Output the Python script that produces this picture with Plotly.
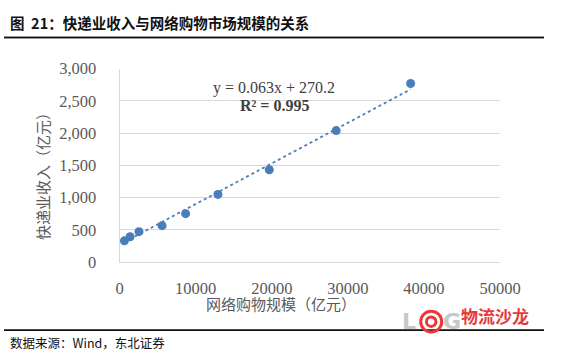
import plotly.graph_objects as go

# Data
online_shopping = [625, 1375, 2540, 5580, 8670, 12920, 19670, 28460, 38250]   # 网络购物规模（亿元）
express_revenue = [328, 392, 471, 564, 750, 1049, 1431, 2039, 2770]          # 快递业收入（亿元）
trend_slope = 0.063
trend_intercept = 270.2
y_tick_vals = [0, 500, 1000, 1500, 2000, 2500, 3000]
y_tick_text = ["0", "500", "1,000", "1,500", "2,000", "2,500", "3,000"]
x_tick_vals = [0, 10000, 20000, 30000, 40000, 50000]
x_tick_text = ["0", "10000", "20000", "30000", "40000", "50000"]

W, H = 565, 362
L, R, T, B = 121, 519, 63, 267  # plot area in pixels


def px(x):
    return x / W


def py(y):
    return 1 - y / H


trend_x = [min(online_shopping), max(online_shopping)]
trend_y = [trend_slope * v + trend_intercept for v in trend_x]

fig = go.Figure()
fig.add_trace(go.Scatter(
    x=trend_x, y=trend_y, mode="lines",
    line=dict(color="#4A7EBB", width=1.8, dash="dot"),
    hoverinfo="skip", showlegend=False,
))
fig.add_trace(go.Scatter(
    x=online_shopping, y=express_revenue, mode="markers",
    marker=dict(color="#4A7EBB", size=9),
    showlegend=False,
))
# page rules (decoration) drawn on a full-page overlay axis pair
for rule_y in (30, 339):
    fig.add_trace(go.Scatter(
        x=[0, W], y=[rule_y, rule_y], xaxis="x2", yaxis="y2", mode="lines",
        line=dict(color="#111111", width=1.5),
        hoverinfo="skip", showlegend=False,
    ))

serif = "Liberation Serif, Times New Roman, serif"
cjk = "Noto Sans CJK SC, sans-serif"
gray = "#595959"

fig.update_layout(
    width=W, height=H,
    margin=dict(l=0, r=0, t=0, b=0, pad=0),
    paper_bgcolor="white", plot_bgcolor="rgba(0,0,0,0)",
    xaxis=dict(
        domain=[L / W, R / W], anchor="y",
        range=[0, 50000], tickvals=x_tick_vals, ticktext=x_tick_text,
        showgrid=False, zeroline=False,
        showline=True, linecolor="#D9D9D9", linewidth=1,
        ticks="outside", ticklen=11, tickcolor="rgba(0,0,0,0)",
        tickfont=dict(family=serif, size=16.5, color=gray),
    ),
    yaxis=dict(
        domain=[1 - B / H, 1 - T / H], anchor="x",
        range=[0, 3000], tickvals=y_tick_vals, ticktext=y_tick_text,
        showgrid=True, gridcolor="#D9D9D9", gridwidth=1, zeroline=False,
        showline=True, linecolor="#D9D9D9", linewidth=1,
        ticks="outside", ticklen=19, tickcolor="rgba(0,0,0,0)",
        tickfont=dict(family=serif, size=16.5, color=gray),
    ),
    xaxis2=dict(domain=[0, 1], range=[0, W], anchor="y2", visible=False,
                fixedrange=True),
    yaxis2=dict(domain=[0, 1], range=[H, 0], anchor="x2", visible=False,
                fixedrange=True),
    annotations=[
        dict(text="<b>图  21：快递业收入与网络购物市场规模的关系</b>",
             xref="paper", yref="paper", x=px(4), y=py(14),
             xanchor="left", yanchor="middle", showarrow=False,
             font=dict(family=cjk, size=14.5, color="#111111")),
        dict(text="数据来源：Wind，东北证券",
             xref="paper", yref="paper", x=px(4), y=py(352),
             xanchor="left", yanchor="middle", showarrow=False,
             font=dict(family=cjk, size=12.5, color="#111111")),
        dict(text="网络购物规模（亿元）",
             xref="paper", yref="paper", x=px(290), y=py(311),
             xanchor="center", yanchor="middle", showarrow=False,
             font=dict(family=cjk, size=15, color=gray)),
        dict(text="快递业收入（亿元）",
             xref="paper", yref="paper", x=px(41), y=py(173),
             xanchor="center", yanchor="middle", showarrow=False, textangle=-90,
             font=dict(family=cjk, size=15, color=gray)),
        dict(text="y = 0.063x + 270.2",
             xref="paper", yref="paper", x=px(283), y=py(83),
             xanchor="center", yanchor="middle", showarrow=False,
             font=dict(family=serif, size=16, color="#404040")),
        dict(text="<b>R² = 0.995</b>",
             xref="paper", yref="paper", x=px(283), y=py(102),
             xanchor="center", yanchor="middle", showarrow=False,
             font=dict(family=serif, size=16, color="#404040")),
        # watermark logo
        dict(text="<b>物流沙龙</b>",
             xref="paper", yref="paper", x=px(514), y=py(324),
             xanchor="center", yanchor="middle", showarrow=False,
             font=dict(family=cjk, size=17, color="#E8393A")),
        dict(text="<b>L</b>",
             xref="paper", yref="paper", x=px(424), y=py(330),
             xanchor="center", yanchor="middle", showarrow=False,
             font=dict(family="DejaVu Sans", size=22, color="#C8C8C8")),
        dict(text="<b>G</b>",
             xref="paper", yref="paper", x=px(469), y=py(330),
             xanchor="center", yanchor="middle", showarrow=False,
             font=dict(family="DejaVu Sans", size=22, color="#C8C8C8")),
    ],
    shapes=[
        dict(type="line", xref="paper", yref="paper",
             x0=0, x1=1, y0=py(30), y1=py(30),
             line=dict(color="#111111", width=1.5)),
        dict(type="line", xref="paper", yref="paper",
             x0=0, x1=1, y0=py(339), y1=py(339),
             line=dict(color="#111111", width=1.5)),
        dict(type="circle", xref="paper", yref="paper",
             x0=px(436), x1=px(458), y0=py(341), y1=py(319),
             line=dict(color="#E8393A", width=3)),
        dict(type="circle", xref="paper", yref="paper",
             x0=px(442), x1=px(452), y0=py(335), y1=py(325),
             line=dict(color="#E8393A", width=3)),
    ],
)

fig.write_html(
    "out.html",
    config={"displayModeBar": False},
    post_script="document.body.style.margin='0';document.body.style.overflow='hidden';",
)
